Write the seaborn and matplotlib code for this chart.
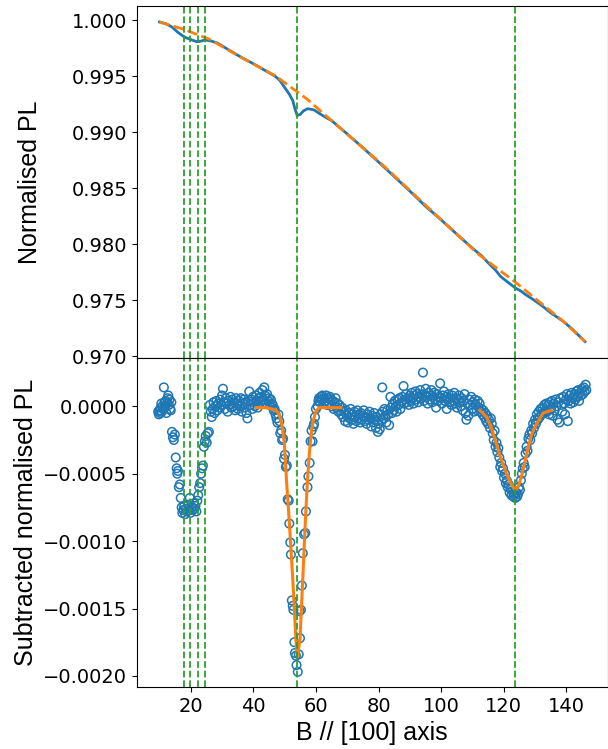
import numpy as np
import pandas as pd
import matplotlib
matplotlib.use("Agg")
import matplotlib.pyplot as plt
import seaborn as sns


# -----------------------------
# Data
# -----------------------------
# top panel: normalised PL trace
pl_field = [10, 12, 14, 16, 18, 20, 22, 23, 24.5, 26.5, 28.5, 32, 36, 40, 44, 47,
            48.5, 50, 51.5, 52.6, 53.3, 54, 55, 56, 57.3, 58.5, 59.5, 61, 63, 65,
            70, 75, 80, 85, 90, 95, 100, 105, 110, 113, 115, 117.5, 119, 121, 123,
            124, 125.5, 127, 129.5, 132.5, 135, 139, 142, 146]
pl_value = [0.99985, 0.99970, 0.99940, 0.99890, 0.99850, 0.99828, 0.99808, 0.99812,
            0.99825, 0.99815, 0.99797, 0.99738, 0.99672, 0.99612, 0.99548, 0.99500,
            0.99462, 0.99400, 0.99340, 0.99283, 0.99210, 0.99150, 0.99160, 0.99190,
            0.99210, 0.99205, 0.99198, 0.99170, 0.99135, 0.99104, 0.98985, 0.98862,
            0.98735, 0.98605, 0.98475, 0.98340, 0.98218, 0.98090, 0.97965, 0.97895,
            0.97835, 0.97765, 0.97712, 0.97668, 0.97625, 0.97605, 0.97582, 0.97550,
            0.97505, 0.97445, 0.97388, 0.97312, 0.97240, 0.97130]

# top panel: background (orange dashed)
bg_field = [10, 18, 26, 36, 47, 57, 65, 81, 97, 112, 124, 139, 146]
bg_value = [0.99985, 0.99917, 0.99830, 0.99670, 0.99505, 0.99300, 0.99104,
            0.98717, 0.98297, 0.97909, 0.97655, 0.97312, 0.97130]

# bottom panel: subtracted points, by field range
sub_start = [(9.6, -0.00004), (9.8, -0.00006), (10.0, -0.00003), (10.2, -0.00005),
             (10.4, -0.00001), (10.6, 0.00002), (10.8, -0.00004), (11.0, 0.00000),
             (11.2, -0.00002), (11.4, 0.00014), (11.6, 0.00003), (11.8, -0.00001),
             (12.0, 0.00004), (12.2, -0.00005), (12.4, 0.00002), (12.6, 0.00006),
             (12.8, 0.00008), (13.0, 0.00001), (13.2, 0.00005), (13.4, -0.00002),
             (13.6, -0.00003), (13.8, 0.00003)]

sub_dip_low = [(14.0, -0.00019), (14.3, -0.00023), (14.6, -0.00025), (14.9, -0.00021),
               (15.2, -0.00038), (15.5, -0.00046), (15.7, -0.00050), (15.9, -0.00048),
               (16.2, -0.00060), (16.5, -0.00058), (16.8, -0.00068), (17.1, -0.00075),
               (17.3, -0.00079), (17.6, -0.00077), (17.9, -0.00074), (18.2, -0.00080),
               (18.5, -0.00076), (18.8, -0.00078), (19.1, -0.00073), (19.4, -0.00077),
               (19.7, -0.00068), (20.0, -0.00079), (20.3, -0.00075), (20.6, -0.00077),
               (20.9, -0.00072), (21.2, -0.00076), (21.5, -0.00074), (21.8, -0.00078),
               (22.1, -0.00070), (22.4, -0.00066), (22.7, -0.00060), (23.0, -0.00057),
               (23.3, -0.00050), (23.6, -0.00046), (23.9, -0.00044), (24.2, -0.00030),
               (24.5, -0.00026), (24.8, -0.00022), (25.1, -0.00027), (25.4, -0.00020),
               (25.8, -0.00019)]

sub_flat_a = [(26.1, 0.00001), (26.4, -0.00004), (26.7, -0.00008), (27.0, -0.00002),
              (27.3, 0.00003), (27.6, -0.00005), (27.9, 0.00000), (28.2, 0.00004),
              (28.5, -0.00003), (28.8, 0.00002), (29.1, -0.00001), (29.4, 0.00005),
              (29.7, 0.00001), (30.0, 0.00008), (30.3, 0.00013), (30.6, 0.00003),
              (30.9, -0.00002), (31.2, 0.00006), (31.5, 0.00002), (31.8, -0.00004),
              (32.1, 0.00004), (32.4, 0.00001), (32.7, 0.00007), (33.0, -0.00001),
              (33.3, 0.00005), (33.6, 0.00000), (33.9, 0.00003), (34.2, -0.00003),
              (34.5, 0.00006), (34.8, 0.00002), (35.1, -0.00002), (35.4, 0.00004),
              (35.7, 0.00000), (36.0, 0.00006), (36.3, -0.00004), (36.6, 0.00002),
              (36.9, 0.00005), (37.2, -0.00001), (37.5, 0.00003), (37.8, -0.00005),
              (38.1, -0.00009), (38.4, 0.00004), (38.7, 0.00011), (39.0, 0.00001),
              (39.3, 0.00005), (39.6, -0.00002), (39.9, 0.00007), (40.2, 0.00003),
              (40.5, 0.00000), (40.8, 0.00008), (41.1, 0.00004), (41.4, -0.00001),
              (41.7, 0.00006), (42.0, 0.00010), (42.3, 0.00003), (42.6, 0.00007),
              (42.9, 0.00012), (43.2, 0.00005), (43.5, 0.00014), (43.8, 0.00008),
              (44.1, 0.00002), (44.4, 0.00009), (44.7, 0.00004), (45.0, 0.00006),
              (45.3, 0.00001), (45.6, 0.00005), (45.9, 0.00002)]

sub_dip_54 = [(46.2, 0.00001), (46.5, -0.00003), (46.8, -0.00002), (47.1, -0.00006),
              (47.4, -0.00009), (47.7, -0.00012), (48.0, -0.00006), (48.3, -0.00011),
              (48.6, -0.00020), (48.9, -0.00018), (49.2, -0.00025), (49.5, -0.00024),
              (49.8, -0.00039), (50.1, -0.00036), (50.4, -0.00045), (50.7, -0.00044),
              (51.0, -0.00069), (51.3, -0.00070), (51.5, -0.00087), (51.8, -0.00101),
              (52.0, -0.00110), (52.3, -0.00144), (52.6, -0.00148), (52.8, -0.00151),
              (53.1, -0.00175), (53.3, -0.00183), (53.6, -0.00185), (53.8, -0.00192),
              (54.2, -0.00197), (54.5, -0.00184), (54.8, -0.00152), (54.9, -0.00172),
              (55.2, -0.00151), (55.5, -0.00133), (55.8, -0.00109), (56.2, -0.00095),
              (56.6, -0.00094), (56.8, -0.00078), (57.3, -0.00060), (57.6, -0.00052),
              (58.0, -0.00042), (58.3, -0.00026), (58.6, -0.00018), (58.9, -0.00026),
              (59.2, -0.00015), (59.4, -0.00013), (59.7, -0.00008), (60.0, -0.00002),
              (60.5, 0.00000), (60.8, 0.00004)]

sub_flat_b = [(61.0, 0.00006), (61.3, 0.00003), (61.6, 0.00007), (61.9, 0.00005),
              (62.1, 0.00008), (62.4, 0.00002), (62.7, 0.00006), (63.0, 0.00004),
              (63.3, 0.00008), (63.6, 0.00001), (63.9, 0.00006), (64.2, 0.00003),
              (64.5, 0.00007), (64.8, 0.00005), (65.1, 0.00000), (65.4, 0.00004),
              (65.7, -0.00002), (66.0, 0.00003), (66.3, 0.00006), (66.6, -0.00001),
              (66.9, 0.00002), (67.2, -0.00004), (67.5, 0.00001), (67.8, -0.00003),
              (68.1, -0.00006), (68.4, -0.00001), (68.7, -0.00008), (69.0, -0.00004),
              (69.3, -0.00011), (69.6, -0.00003), (69.9, -0.00007), (70.2, -0.00012),
              (70.5, -0.00005), (70.8, -0.00009), (71.1, -0.00002), (71.4, -0.00010),
              (71.7, -0.00006), (72.0, -0.00013), (72.3, -0.00004), (72.6, -0.00008),
              (72.9, -0.00011), (73.2, -0.00003), (73.5, -0.00009), (73.8, -0.00006),
              (74.1, -0.00012), (74.4, -0.00005), (74.7, -0.00010), (75.0, -0.00007),
              (75.3, -0.00003), (75.6, -0.00011), (75.9, -0.00008), (76.2, -0.00013),
              (76.5, -0.00006), (76.8, -0.00010), (77.1, -0.00004), (77.4, -0.00009),
              (77.7, -0.00015), (78.0, -0.00007), (78.3, -0.00012), (78.6, -0.00005),
              (78.9, -0.00010), (79.2, -0.00016), (79.5, -0.00008), (79.8, -0.00019),
              (80.1, -0.00013), (80.4, -0.00017), (80.7, -0.00006), (81.0, -0.00010),
              (81.2, 0.00014), (81.3, -0.00004), (81.6, -0.00009), (81.9, -0.00002),
              (82.2, -0.00007), (82.5, -0.00012), (82.8, -0.00003), (83.1, -0.00006),
              (83.4, -0.00014), (83.8, 0.00007), (84.0, -0.00001), (84.3, -0.00005),
              (84.6, 0.00002), (84.9, -0.00003), (85.2, 0.00004), (85.5, 0.00000),
              (85.8, -0.00004), (86.1, 0.00005), (86.4, 0.00001), (86.7, 0.00006),
              (87.0, -0.00002), (87.3, 0.00003), (87.6, 0.00007), (88.0, 0.00015),
              (88.2, 0.00002), (88.5, 0.00005), (88.8, 0.00009), (89.1, 0.00003),
              (89.4, 0.00006), (89.7, 0.00001), (90.0, 0.00008)]

sub_flat_c = [(90.3, 0.00004), (90.6, 0.00010), (90.9, 0.00006), (91.2, 0.00002),
              (91.5, 0.00008), (91.8, 0.00011), (92.1, 0.00005), (92.4, 0.00009),
              (92.7, 0.00003), (93.0, 0.00007), (93.3, 0.00012), (93.6, 0.00006),
              (93.9, 0.00009), (94.2, 0.00025), (94.5, 0.00004), (94.8, 0.00008),
              (95.1, 0.00013), (95.4, 0.00007), (95.7, 0.00002), (96.0, 0.00010),
              (96.3, 0.00005), (96.6, 0.00008), (96.9, 0.00012), (97.2, 0.00003),
              (97.5, 0.00007), (97.8, 0.00010), (98.1, 0.00005), (98.4, -0.00001),
              (98.7, 0.00009), (99.0, 0.00004), (99.3, 0.00007), (99.7, 0.00017),
              (100.0, 0.00006), (100.3, 0.00002), (100.6, 0.00008), (100.9, 0.00011),
              (101.2, 0.00004), (101.5, 0.00007), (101.8, -0.00002), (102.1, 0.00005),
              (102.4, 0.00009), (102.7, 0.00003), (103.0, 0.00006), (103.3, 0.00001),
              (103.6, 0.00008), (103.9, 0.00004), (104.2, 0.00010), (104.5, 0.00002),
              (104.8, 0.00006), (105.1, -0.00001), (105.4, 0.00005), (105.7, 0.00008),
              (106.0, 0.00003), (106.3, 0.00000), (106.6, 0.00006), (106.9, -0.00003),
              (107.2, 0.00004), (107.5, 0.00009), (107.8, -0.00005), (108.1, -0.00010),
              (108.4, 0.00002), (108.7, -0.00007), (109.0, 0.00005), (109.3, 0.00001),
              (109.6, 0.00007), (109.9, -0.00002), (110.2, 0.00003), (110.5, -0.00004),
              (110.8, 0.00005), (111.1, 0.00001), (111.4, -0.00003), (111.7, 0.00004),
              (112.0, -0.00001), (112.3, 0.00002), (112.6, -0.00004)]

sub_dip_124 = [(112.9, -0.00002), (113.2, -0.00006), (113.5, -0.00003), (113.8, -0.00008),
               (114.1, -0.00005), (114.4, -0.00011), (114.7, -0.00007), (115.0, -0.00013),
               (115.3, -0.00010), (115.6, -0.00016), (115.9, -0.00009), (116.2, -0.00013),
               (116.5, -0.00020), (116.8, -0.00025), (117.1, -0.00018), (117.4, -0.00030),
               (117.7, -0.00027), (118.0, -0.00034), (118.3, -0.00031), (118.6, -0.00038),
               (118.9, -0.00045), (119.2, -0.00042), (119.5, -0.00048), (119.8, -0.00046),
               (120.1, -0.00053), (120.4, -0.00050), (120.7, -0.00057), (121.0, -0.00055),
               (121.3, -0.00060), (121.6, -0.00058), (121.9, -0.00064), (122.2, -0.00061),
               (122.5, -0.00066), (122.8, -0.00063), (123.1, -0.00067), (123.4, -0.00065),
               (123.7, -0.00068), (124.0, -0.00064), (124.3, -0.00067), (124.6, -0.00065),
               (124.9, -0.00060), (125.2, -0.00062), (125.5, -0.00055), (125.8, -0.00050),
               (126.1, -0.00046), (126.4, -0.00042), (126.7, -0.00045), (127.0, -0.00035),
               (127.3, -0.00030), (127.6, -0.00033), (127.9, -0.00024), (128.2, -0.00021),
               (128.5, -0.00025), (128.8, -0.00018), (129.1, -0.00020), (129.4, -0.00013),
               (129.7, -0.00016), (130.0, -0.00010), (130.3, -0.00013), (130.6, -0.00006),
               (130.9, -0.00010), (131.2, -0.00004), (131.5, -0.00008), (131.8, -0.00002),
               (132.1, -0.00006), (132.4, -0.00001), (132.7, -0.00005), (133.0, 0.00001),
               (133.3, -0.00003), (133.6, 0.00002)]

sub_end = [(133.9, -0.00004), (134.2, 0.00001), (134.5, -0.00006), (134.8, 0.00003),
           (135.1, -0.00002), (135.4, 0.00004), (135.7, -0.00007), (136.0, 0.00002),
           (136.3, -0.00003), (136.6, 0.00005), (136.9, 0.00000), (137.2, -0.00010),
           (137.5, 0.00003), (137.8, -0.00012), (138.1, 0.00006), (138.4, 0.00001),
           (138.7, -0.00004), (139.0, 0.00007), (139.3, 0.00002), (139.6, -0.00006),
           (139.9, 0.00005), (140.2, 0.00009), (140.5, -0.00011), (140.8, 0.00004),
           (141.1, 0.00008), (141.4, 0.00002), (141.7, 0.00010), (142.0, 0.00006),
           (142.3, 0.00003), (142.6, 0.00009), (142.9, 0.00005), (143.2, 0.00011),
           (143.5, 0.00007), (143.8, 0.00012), (144.1, 0.00004), (144.4, 0.00010),
           (144.7, 0.00008), (145.0, 0.00013), (145.3, 0.00009), (145.6, 0.00014),
           (145.9, 0.00011), (146.2, 0.00016), (146.4, 0.00012)]

# fitted dips (orange)
fit54_field = [40.9, 44, 46, 47.3, 48.2, 48.8, 49.4, 49.9, 50.6, 51.5, 52.6, 53.6,
               54.1, 54.9, 55.8, 56.6, 57.3, 57.9, 58.5, 59.2, 60, 61, 63, 68]
fit54_value = [-0.00001, -0.00001, -0.00002, -0.00003, -0.00006, -0.00010, -0.00018,
               -0.00027, -0.00055, -0.00086, -0.00128, -0.00173, -0.00186, -0.00173,
               -0.00128, -0.00086, -0.00055, -0.00035, -0.00020, -0.00010, -0.00004,
               -0.00001, -0.00001, -0.00001]

fit124_field = [112.4, 114.6, 116.1, 117.7, 119.3, 120.9, 122.5, 123.6, 124.6, 125.7,
                126.7, 127.8, 128.9, 130.5, 132.6, 135.2]
fit124_value = [-0.00003, -0.00008, -0.00016, -0.00028, -0.00040, -0.00050, -0.00058,
                -0.00062, -0.00060, -0.00052, -0.00042, -0.00031, -0.00021, -0.00013,
                -0.00005, -0.00003]

# resonance positions (green dashed)
resonances = [17.8, 19.9, 22.2, 24.4, 53.9, 123.7]


# -----------------------------
# Plot
# -----------------------------
sub_df = pd.DataFrame(sub_start + sub_dip_low + sub_flat_a + sub_dip_54 + sub_flat_b
                      + sub_flat_c + sub_dip_124 + sub_end, columns=["field", "sub"])

plt.rcParams["xtick.labelsize"] = 14
plt.rcParams["ytick.labelsize"] = 14
label_font = {"family": "Liberation Sans", "size": 18}

fig, (ax1, ax2) = plt.subplots(2, 1, sharex=True, figsize=(6.08, 7.49), dpi=100,
                               gridspec_kw={"height_ratios": [351.7, 329.3]})
fig.subplots_adjust(left=0.225, right=0.9995, top=0.992, bottom=0.083, hspace=0)

sns.lineplot(x=pl_field, y=pl_value, ax=ax1, color="C0", lw=2.0, estimator=None)
sns.lineplot(x=bg_field, y=bg_value, ax=ax1, color="C1", lw=2.0, ls="--", estimator=None)

sns.scatterplot(data=sub_df, x="field", y="sub", ax=ax2, marker="o", s=38,
                facecolor="none", edgecolor="C0", linewidth=1.1)
sns.lineplot(x=fit54_field, y=fit54_value, ax=ax2, color="C1", lw=2.2, estimator=None)
sns.lineplot(x=fit124_field, y=fit124_value, ax=ax2, color="C1", lw=2.2, estimator=None)

for ax in (ax1, ax2):
    for b in resonances:
        ax.axvline(b, color="C2", ls="--", lw=1.3)

ax1.set_ylabel("Normalised PL", fontdict=label_font)
ax2.set_ylabel("Subtracted normalised PL", fontdict=label_font)
ax2.set_xlabel("B // [100] axis", fontdict=label_font)
ax1.set_yticks([0.970, 0.975, 0.980, 0.985, 0.990, 0.995, 1.000])
ax2.set_yticks([-0.0020, -0.0015, -0.0010, -0.0005, 0.0000])
ax2.set_xticks([20, 40, 60, 80, 100, 120, 140])
ax1.yaxis.set_label_coords(-0.202, 0.5)
ax2.yaxis.set_label_coords(-0.209, 0.5)

plt.savefig("out.png")
plt.close()
